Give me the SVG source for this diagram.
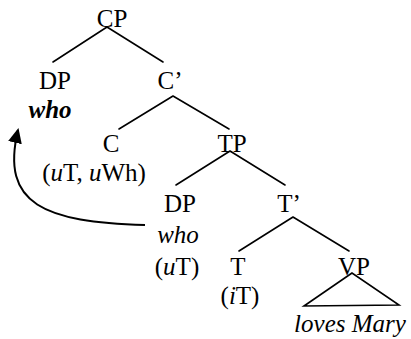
<svg xmlns="http://www.w3.org/2000/svg" width="411" height="339" viewBox="0 0 411 339">
  <style>
    text { font-family: "Liberation Serif", "Times New Roman", serif; font-size: 25px; fill: #000; text-anchor: middle; }
    .it { font-style: italic; }
    .bi { font-style: italic; font-weight: bold; }
    .edge { stroke: #000; stroke-width: 1.6; fill: none; stroke-linecap: round; }
    .move { stroke: #000; stroke-width: 2; fill: none; }
  </style>
  <defs>
    <marker id="head" viewBox="0 0 15 14" refX="13" refY="7" markerWidth="15" markerHeight="14" orient="auto" markerUnits="userSpaceOnUse">
      <path d="M0,0 L15,7 L0,14 z" fill="#000"/>
    </marker>
  </defs>

  <rect width="411" height="339" fill="#fff"/>

  <!-- branches -->
  <g id="connectors">
    <path class="edge" d="M107,27 L53,62 M107,27 L163,62"/>
    <path class="edge" d="M173,96 L119,129 M173,96 L229,129"/>
    <path class="edge" d="M230,151 L176,185 M230,151 L285,185"/>
    <path class="edge" d="M293,217 L239,251 M293,217 L349,251"/>
    <path class="edge" d="M352,273 L304,306 L399,305 Z"/>
    <!-- wh-movement arrow -->
    <path class="move" d="M145,225 C45,222 0,205 18,130" marker-end="url(#head)"/>
  </g>

  <g id="cp"><text x="112" y="27">CP</text></g>
  <g id="dp-spec">
    <text x="55" y="89">DP</text>
    <text class="bi" x="50" y="118">who</text>
  </g>
  <g id="c-bar"><text x="170" y="89">C’</text></g>
  <g id="c-head">
    <text x="111" y="152">C</text>
    <text x="94" y="181">(<tspan class="it">u</tspan>T, <tspan class="it">u</tspan>Wh)</text>
  </g>
  <g id="tp"><text x="232" y="152">TP</text></g>
  <g id="dp-subj">
    <text x="180" y="212">DP</text>
    <text class="it" x="178" y="243">who</text>
    <text x="177" y="275">(<tspan class="it">u</tspan>T)</text>
  </g>
  <g id="t-bar"><text x="289" y="212">T’</text></g>
  <g id="t-head">
    <text x="238" y="275">T</text>
    <text x="240" y="304">(<tspan class="it">i</tspan>T)</text>
  </g>
  <g id="vp">
    <text x="354" y="275">VP</text>
    <text class="it" x="350" y="332">loves Mary</text>
  </g>
</svg>
